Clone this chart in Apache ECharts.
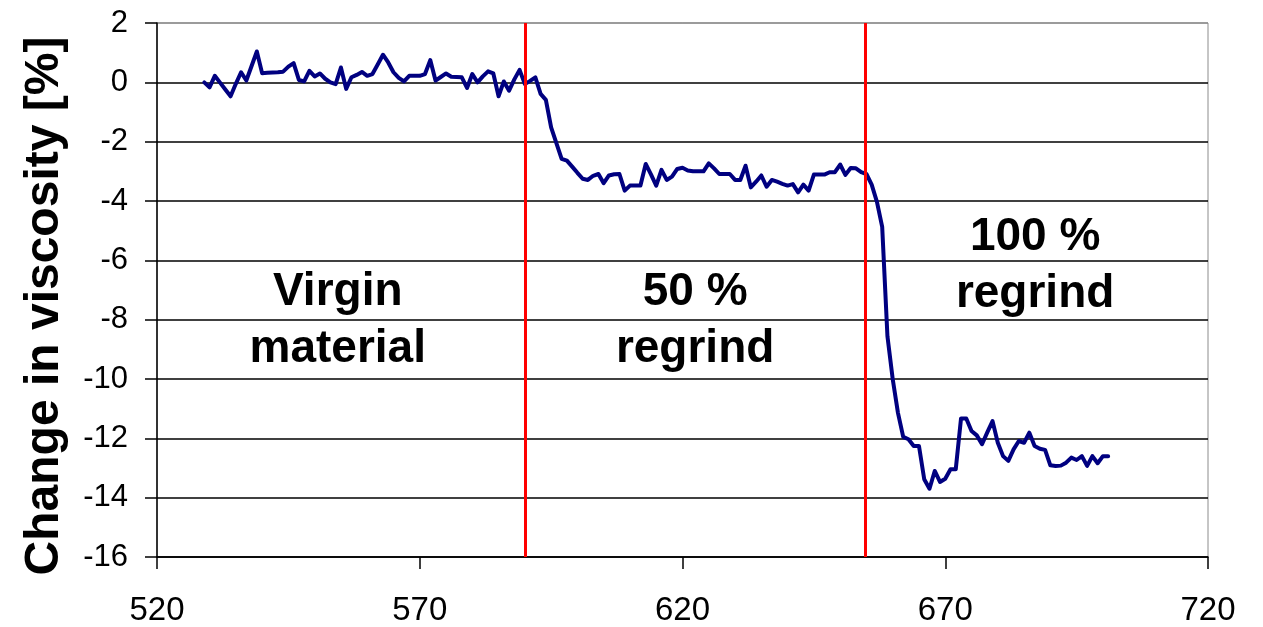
<!DOCTYPE html>
<html>
<head>
<meta charset="utf-8">
<title>Change in viscosity</title>
<script src="https://cdn.jsdelivr.net/npm/echarts@6/dist/echarts.min.js"></script>
<style>
  html, body { margin: 0; padding: 0; background: #ffffff; }
  #chart { width: 1263px; height: 627px; }
</style>
</head>
<body>
<div id="chart"></div>
<script>
// Sampling times (one reading per unit, starting at 529)
const startTime = 529;
// Change in viscosity [%] for each reading
const viscosityChange = [
  0.0, -0.17, 0.22, -0.01, -0.24, -0.47, -0.05, 0.34, 0.06, 0.55,
  1.04, 0.31, 0.32, 0.33, 0.34, 0.36, 0.53, 0.65, 0.08, 0.03,
  0.39, 0.2, 0.3, 0.12, 0.0, -0.06, 0.5, -0.22, 0.17, 0.25,
  0.35, 0.22, 0.28, 0.6, 0.93, 0.67, 0.34, 0.15, 0.03, 0.22,
  0.22, 0.22, 0.28, 0.75, 0.06, 0.18, 0.3, 0.19, 0.18, 0.17,
  -0.19, 0.28, 0.0, 0.2, 0.37, 0.3, -0.47, 0.03, -0.28, 0.1,
  0.42, -0.06, 0.05, 0.17, -0.39, -0.59, -1.52, -2.05, -2.58, -2.64,
  -2.84, -3.05, -3.25, -3.29, -3.15, -3.09, -3.4, -3.14, -3.1, -3.09,
  -3.65, -3.48, -3.48, -3.48, -2.75, -3.1, -3.48, -2.95, -3.29, -3.18,
  -2.92, -2.88, -2.97, -3.0, -3.0, -3.0, -2.73, -2.9, -3.09, -3.09,
  -3.09, -3.29, -3.29, -2.81, -3.54, -3.35, -3.14, -3.52, -3.29, -3.35,
  -3.42, -3.48, -3.43, -3.71, -3.45, -3.65, -3.11, -3.11, -3.11, -3.03,
  -3.03, -2.77, -3.12, -2.89, -2.9, -3.03, -3.09, -3.45, -4.03, -4.87,
  -8.56, -10.0, -11.14, -11.95, -12.03, -12.26, -12.26, -13.38, -13.7, -13.1,
  -13.47, -13.36, -13.04, -13.04, -11.33, -11.33, -11.75, -11.9, -12.2, -11.8,
  -11.42, -12.15, -12.6, -12.76, -12.37, -12.09, -12.15, -11.81, -12.26, -12.35,
  -12.39, -12.91, -12.93, -12.92, -12.82, -12.65, -12.73, -12.6, -12.93, -12.6,
  -12.84, -12.6, -12.6
];
// Times at which the feed material was changed
const changeTimes = [590, 654.7];
// Phase labels and their anchor positions in data units
const phaseLabels = ['Virgin\nmaterial', '50 %\nregrind', '100 %\nregrind'];
const phaseX = [554.4, 622.4, 687.1];
const phaseY = [-8.05, -8.05, -6.17];
// Axis ranges
const xMin = 520, xMax = 720, xStep = 50;
const yMin = -16, yMax = 2, yStep = 2;
const yAxisTitle = 'Change in viscosity [%]';

const seriesData = viscosityChange.map((v, i) => [startTime + i, v]);
const labelData = phaseLabels.map((t, i) => ({ value: [phaseX[i], phaseY[i]], name: t }));

const FONT = '"Liberation Sans", Arial, sans-serif';
// gridlines black, the top one (at yMax) grey like the plot border
const gridColors = [];
for (let v = yMin; v <= yMax; v += yStep) gridColors.push(v === yMax ? '#8c8c8c' : '#000000');

const chart = echarts.init(document.getElementById('chart'), null, { renderer: 'canvas' });
chart.setOption({
  animation: false,
  backgroundColor: '#ffffff',
  grid: {
    left: 157, right: 55, top: 23, bottom: 70,
    show: true, borderColor: '#8c8c8c', borderWidth: 1, backgroundColor: 'transparent'
  },
  xAxis: {
    type: 'value', min: xMin, max: xMax, interval: xStep,
    axisLine: { show: true, onZero: false, lineStyle: { color: '#000', width: 1.5 } },
    axisTick: { show: true, inside: false, length: 12, lineStyle: { color: '#000', width: 1.5 } },
    axisLabel: { margin: 37, color: '#000', fontSize: 33, fontFamily: FONT },
    splitLine: { show: false }
  },
  yAxis: {
    type: 'value', min: yMin, max: yMax, interval: yStep,
    axisLine: { show: true, onZero: false, lineStyle: { color: '#000', width: 1.5 } },
    axisTick: { show: true, inside: false, length: 12, lineStyle: { color: '#000', width: 1.5 } },
    axisLabel: { margin: 29, color: '#000', fontSize: 31, fontFamily: FONT },
    splitLine: { show: true, lineStyle: { color: gridColors, width: 1.5 } }
  },
  graphic: [{
    type: 'text', x: 45, y: 306, rotation: Math.PI / 2,
    style: {
      text: yAxisTitle, fill: '#000',
      font: 'bold 48px ' + FONT,
      align: 'center', verticalAlign: 'middle'
    }
  }],
  series: [
    {
      type: 'line',
      data: seriesData,
      showSymbol: false,
      symbol: 'none',
      lineStyle: { color: '#000080', width: 4, join: 'round', cap: 'round' },
      z: 3,
      markLine: {
        silent: true,
        symbol: ['none', 'none'],
        label: { show: false },
        lineStyle: { color: '#ff0000', width: 3, type: 'solid' },
        data: changeTimes.map(t => ({ xAxis: t }))
      }
    },
    {
      type: 'scatter',
      data: labelData,
      symbolSize: 0,
      silent: true,
      z: 5,
      itemStyle: { opacity: 1, color: 'rgba(0,0,0,0)' },
      label: {
        show: true, position: 'inside',
        formatter: p => p.name,
        color: '#000000', opacity: 1, fontSize: 46, fontWeight: 'bold', fontFamily: FONT,
        lineHeight: 57, align: 'center', verticalAlign: 'middle'
      }
    }
  ]
});
</script>
</body>
</html>
